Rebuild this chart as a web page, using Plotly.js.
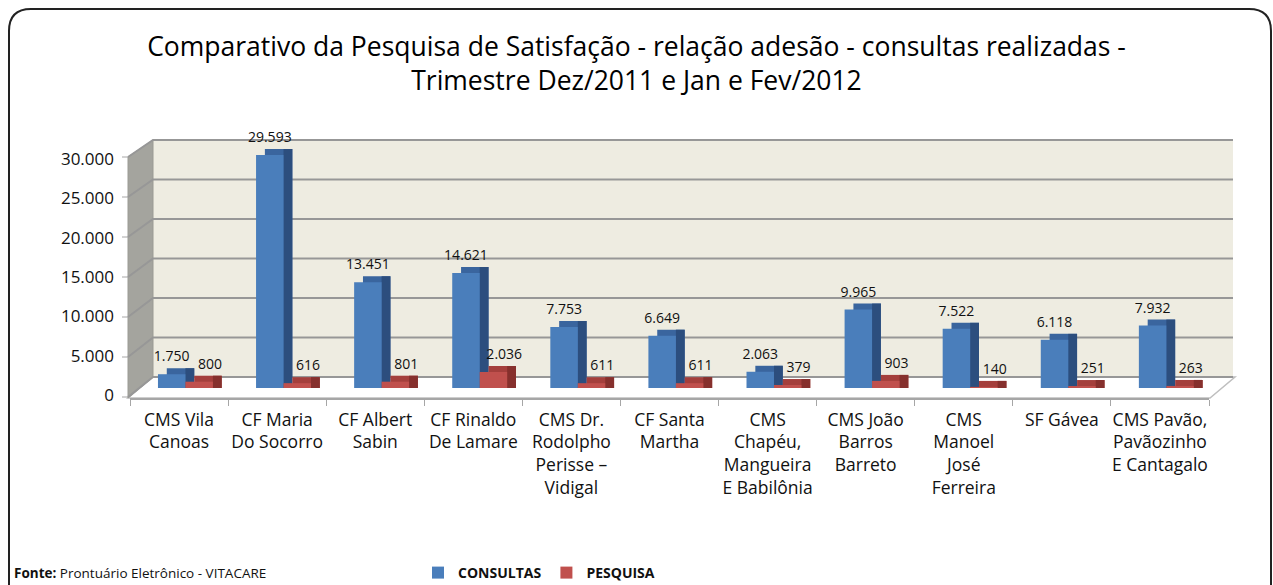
<!DOCTYPE html>
<html>
<head>
<meta charset="utf-8">
<script src="https://cdn.plot.ly/plotly-3.0.1.min.js"></script>
<style>html,body{margin:0;padding:0;background:#fff;overflow:hidden;}#chart{width:1273px;height:585px;}</style>
</head>
<body>
<div id="chart"></div>
<script>
// ---- data ----
const categories = [
  'CMS Vila<br>Canoas',
  'CF Maria<br>Do Socorro',
  'CF Albert<br>Sabin',
  'CF Rinaldo<br>De Lamare',
  'CMS Dr.<br>Rodolpho<br>Perisse –<br>Vidigal',
  'CF Santa<br>Martha',
  'CMS<br>Chapéu,<br>Mangueira<br>E Babilônia',
  'CMS João<br>Barros<br>Barreto',
  'CMS<br>Manoel<br>José<br>Ferreira',
  'SF Gávea',
  'CMS Pavão,<br>Pavãozinho<br>E Cantagalo'
];
const consultas = [1750, 29593, 13451, 14621, 7753, 6649, 2063, 9965, 7522, 6118, 7932];
const pesquisa  = [800, 616, 801, 2036, 611, 611, 379, 903, 140, 251, 263];
const yTicks = [0, 5000, 10000, 15000, 20000, 25000, 30000];
const seriesNames = ['CONSULTAS', 'PESQUISA'];

// ---- geometry / style ----
const L = 130, R = 1209, T = 140, B = 398;
const px = x => (x - L) / (R - L);
const py = y => (B - y) / (B - T);
const FONT = 'Open Sans, Liberation Sans, sans-serif';
const BAR_W = 0.28, DX = 0.09, DEPTH = 760;
const fmt = v => String(v).replace(/\B(?=(\d{3})+(?!\d))/g, '.');

function series(name, vals, off, cFront, cTop, cSide, labelShift) {
  const raised = vals.map(v => v + DEPTH);
  return [
    {type:'bar', x:categories, y:raised, offset:off+DX, width:BAR_W,
     marker:{color:cTop}, showlegend:false, hoverinfo:'skip'},
    {type:'bar', x:categories, y:raised, offset:off+BAR_W, width:DX,
     marker:{color:cSide}, showlegend:false, hoverinfo:'skip'},
    {type:'bar', x:categories, y:vals, offset:off, width:BAR_W, name:name,
     marker:{color:cFront}, showlegend:true},
    {type:'bar', x:categories, y:raised, offset:off+labelShift, width:BAR_W,
     marker:{color:'rgba(0,0,0,0)'}, showlegend:false, hoverinfo:'skip',
     text: vals.map(fmt), textposition:'outside', cliponaxis:false, constraintext:'none',
     textfont:{family:FONT, size:14, color:'#111'}}
  ];
}

const blue = series(seriesNames[0], consultas, -0.215, '#4A7EBB', '#3A659E', '#2C4E7E', 0);
const red  = series(seriesNames[1], pesquisa, 0.065, '#C0504D', '#A43F3C', '#86302D', 0.11);
const data = [blue[0], blue[1], blue[2], red[0], red[1], red[2], blue[3], red[3]];

// decorative 3D walls, floor, gridlines and tick marks
const shapes = [];
shapes.push({type:'rect', xref:'paper', yref:'paper', layer:'below',
  x0:px(153), x1:px(1233), y0:py(377), y1:py(140), fillcolor:'#EEECE1', line:{width:0}});
shapes.push({type:'path', xref:'paper', yref:'paper', layer:'below',
  path:`M${px(128)},${py(398)} L${px(1210)},${py(398)} L${px(1235)},${py(377)} L${px(153)},${py(377)} Z`,
  fillcolor:'#FFFFFF', line:{color:'#BFBFBF', width:1.5}});
shapes.push({type:'path', xref:'paper', yref:'paper', layer:'below',
  path:`M${px(128)},${py(398)} L${px(128)},${py(157)} L${px(153)},${py(140)} L${px(153)},${py(377)} Z`,
  fillcolor:'#A4A49E', line:{color:'#9A9A94', width:1}});
yTicks.forEach(t => {
  const yf = 397 - t * 240 / 30000;
  const yb = 377 - t * 237 / 30000;
  shapes.push({type:'path', xref:'paper', yref:'paper', layer:'below',
    path:`M${px(128)},${py(yf)} L${px(153)},${py(yb)} L${px(1233)},${py(yb)}`,
    line:{color:'#979797', width:2}});
  shapes.push({type:'line', xref:'paper', yref:'paper', layer:'below',
    x0:px(122), x1:px(128), y0:py(yf), y1:py(yf), line:{color:'#A6A6A6', width:1}});
});
// outer rounded border
const bx0 = px(9), bx1 = px(1271), by0 = py(9), by1 = py(600);
const rx = 22 / (R - L), ry = 22 / (B - T);
shapes.push({type:'path', xref:'paper', yref:'paper', layer:'below',
  path:`M${bx0},${by1} L${bx0},${by0 - ry} Q${bx0},${by0} ${bx0 + rx},${by0} L${bx1 - rx},${by0} Q${bx1},${by0} ${bx1},${by0 - ry} L${bx1},${by1}`,
  line:{color:'#222', width:2}});

const layout = {
  width:1273, height:585,
  margin:{l:L, r:1273 - R, t:T, b:585 - B, pad:0, autoexpand:false},
  paper_bgcolor:'#FFFFFF', plot_bgcolor:'rgba(0,0,0,0)',
  separators:',.',
  barmode:'overlay',
  font:{family:FONT, color:'#111'},
  shapes: shapes,
  title:{
    text:'Comparativo da Pesquisa de Satisfação - relação adesão - consultas realizadas -<br>Trimestre Dez/2011 e Jan e Fev/2012',
    font:{family:FONT, size:26.5, color:'#000'},
    xref:'container', x:0.5, xanchor:'center',
    yref:'container', y:1 - 56/585, yanchor:'top'
  },
  xaxis:{
    type:'category', showgrid:false, zeroline:false,
    showline:true, linecolor:'#A6A6A6', linewidth:1.5,
    ticks:'outside', tickson:'boundaries', ticklen:6, tickcolor:'#A6A6A6',
    ticklabelstandoff:5,
    tickangle:0, tickfont:{family:FONT, size:17.5, color:'#111'}
  },
  yaxis:{
    range:[-1271, 31512], fixedrange:true,
    tickvals:yTicks, tickformat:',d',
    showgrid:false, zeroline:false, showline:false,
    ticks:'', ticklabelstandoff:15, ticklabelshift:7,
    tickfont:{family:FONT, size:17, color:'#111'}
  },
  legend:{
    orientation:'h', x:px(418), xanchor:'left', y:py(573), yanchor:'middle',
    font:{family:FONT, size:14, color:'#111', weight:'bold'},
    bgcolor:'rgba(0,0,0,0)', itemwidth:30, traceorder:'normal'
  },
  annotations:[{
    xref:'paper', yref:'paper', x:px(12), xanchor:'left', y:py(573), yanchor:'middle',
    text:'<b>Fonte:</b> Prontuário Eletrônico - VITACARE', showarrow:false,
    font:{family:FONT, size:13.5, color:'#111'}
  }]
};

Plotly.newPlot('chart', data, layout, {displayModeBar:false, staticPlot:true});
</script>
</body>
</html>
